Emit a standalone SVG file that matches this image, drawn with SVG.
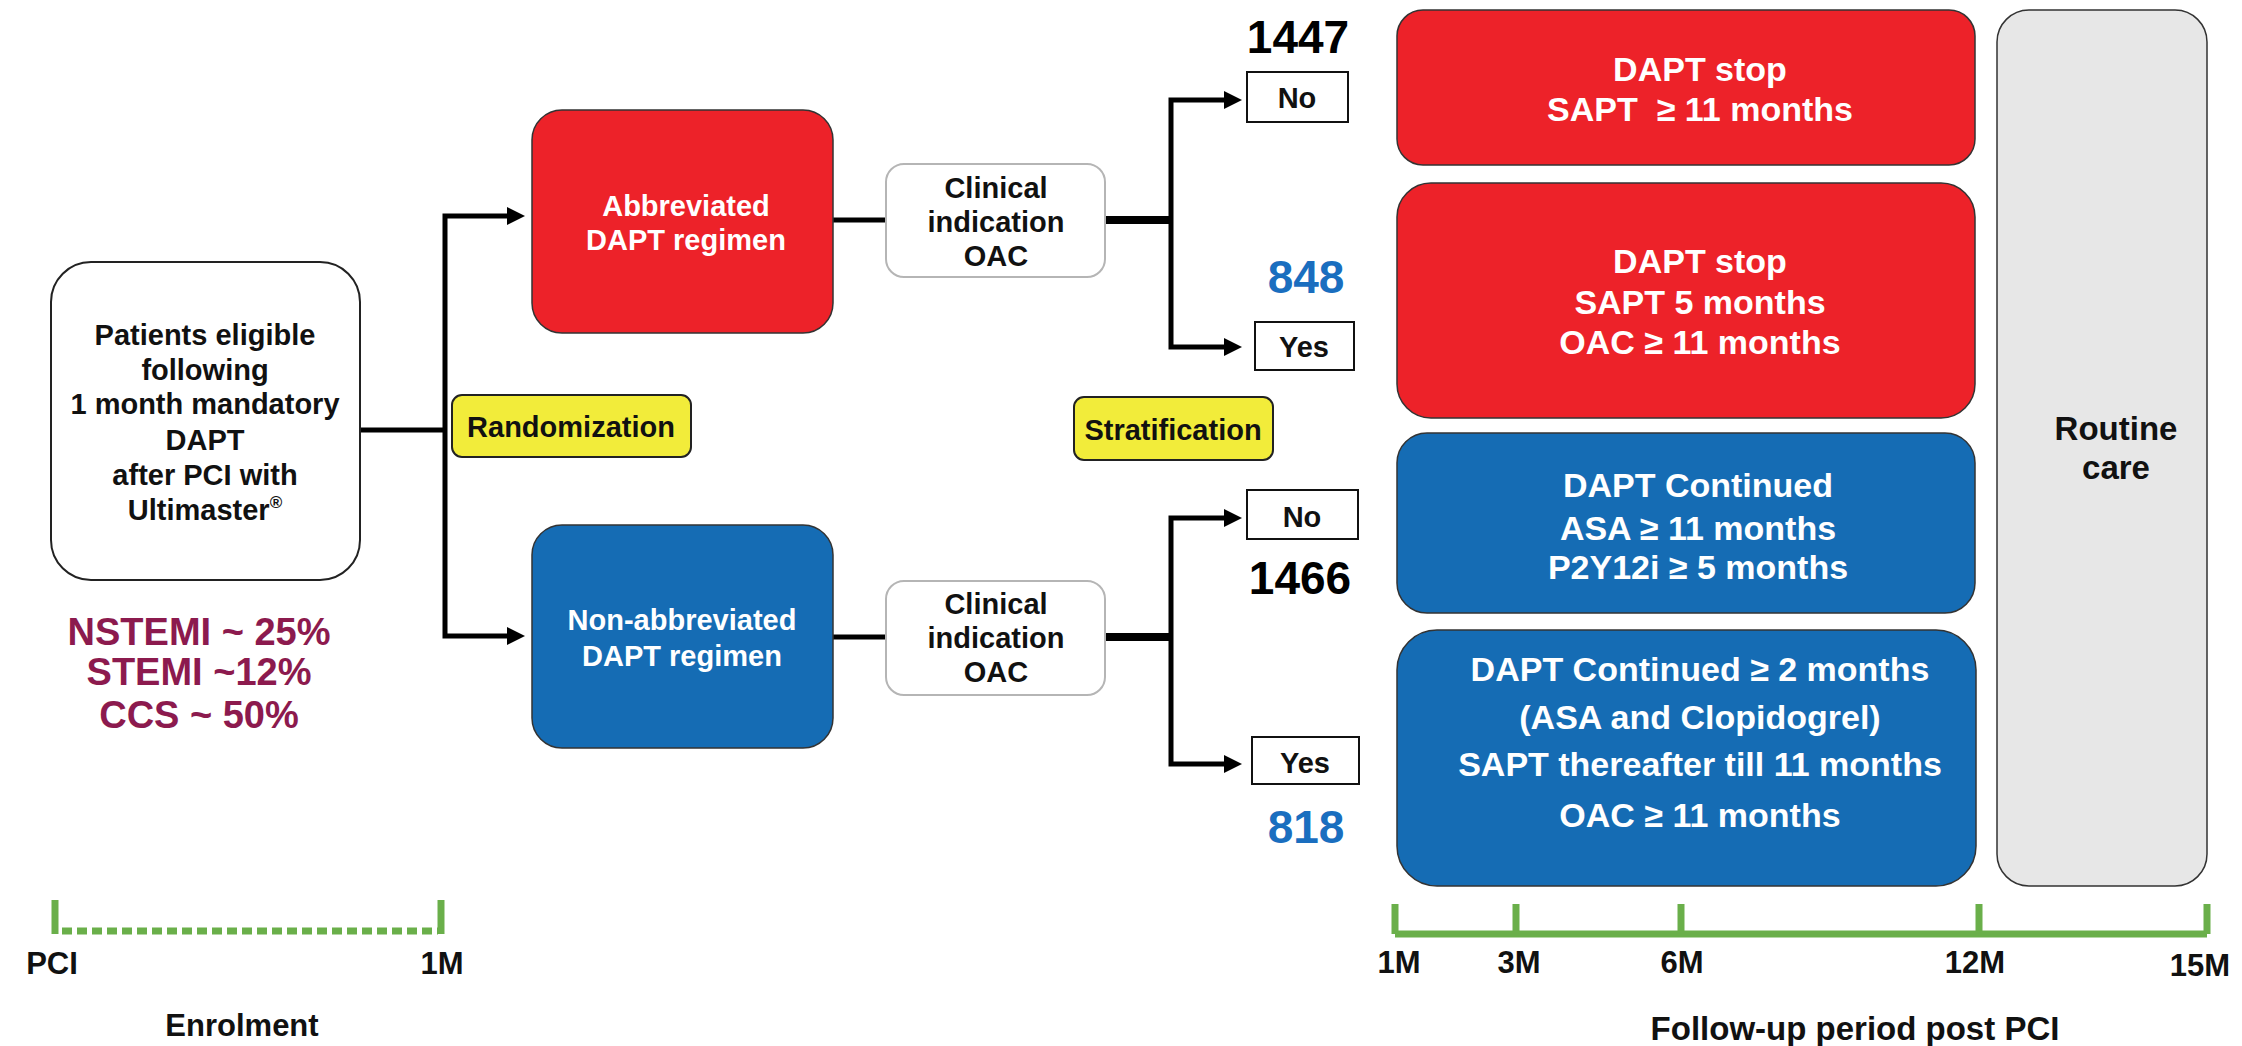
<svg xmlns="http://www.w3.org/2000/svg" width="2242" height="1046" viewBox="0 0 2242 1046">
<style>
text{font-family:"Liberation Sans",Arial,sans-serif;font-weight:bold;text-anchor:middle}
.l{font-size:29px;fill:#111}
.w{font-size:29px;fill:#fff}
.rw{font-size:34px;fill:#fff}
.red{fill:#ED2229;stroke:#333;stroke-width:1.5}
.blue{fill:#156CB4;stroke:#333;stroke-width:1.5}
.clin{fill:#fff;stroke:#b5b5b5;stroke-width:2}
.yn{fill:#fff;stroke:#111;stroke-width:2}
.yel{fill:#F2EC3A;stroke:#222;stroke-width:2}
.conn{fill:none;stroke:#000;stroke-width:5;stroke-linejoin:miter}
.thick{stroke-width:8}
.tl{fill:none;stroke:#6AAF4A;stroke-width:7}
.tlab{font-size:31px;fill:#111}
.num{font-size:46px}
.pct{font-size:38px;fill:#8C1A4E}
</style>
<defs>
<marker id="ah" markerUnits="userSpaceOnUse" markerWidth="20" markerHeight="20" refX="6" refY="9" orient="auto">
<path d="M0,0 L18,9 L0,18 z" fill="#000"/>
</marker>
</defs>

<g id="connectors">
<path class="conn" d="M360 430 H445"/>
<path class="conn" d="M445 430 V216 H513" marker-end="url(#ah)"/>
<path class="conn" d="M445 430 V636 H513" marker-end="url(#ah)"/>
<path class="conn" d="M833 220 H886"/>
<path class="conn thick" d="M1105 220 H1171"/>
<path class="conn" d="M1171 220 V100 H1230" marker-end="url(#ah)"/>
<path class="conn" d="M1171 220 V347 H1230" marker-end="url(#ah)"/>
<path class="conn" d="M833 637 H886"/>
<path class="conn thick" d="M1105 637 H1171"/>
<path class="conn" d="M1171 637 V518 H1230" marker-end="url(#ah)"/>
<path class="conn" d="M1171 637 V764 H1230" marker-end="url(#ah)"/>
</g>

<g id="patients">
<rect x="51" y="262" width="309" height="318" rx="40" fill="#fff" stroke="#222" stroke-width="2"/>
<text class="l"><tspan x="205" y="345">Patients eligible</tspan><tspan x="205" y="380">following</tspan><tspan x="205" y="414">1 month mandatory</tspan><tspan x="205" y="450">DAPT</tspan><tspan x="205" y="485">after PCI with</tspan><tspan x="205" y="520">Ultimaster<tspan font-size="17" dy="-12">®</tspan></tspan></text>
</g>

<g id="percentages">
<text class="pct"><tspan x="199" y="645">NSTEMI ~ 25%</tspan><tspan x="199" y="685">STEMI ~12%</tspan><tspan x="199" y="728">CCS ~ 50%</tspan></text>
</g>

<g id="randomization">
<rect class="yel" x="452" y="395" width="239" height="62" rx="10"/>
<text class="l" x="571" y="437">Randomization</text>
</g>

<g id="abbreviated">
<rect class="red" x="532" y="110" width="301" height="223" rx="30"/>
<text class="w"><tspan x="686" y="216">Abbreviated</tspan><tspan x="686" y="250">DAPT regimen</tspan></text>
</g>

<g id="nonabbreviated">
<rect class="blue" x="532" y="525" width="301" height="223" rx="30"/>
<text class="w"><tspan x="682" y="630">Non-abbreviated</tspan><tspan x="682" y="666">DAPT regimen</tspan></text>
</g>

<g id="clinical1">
<rect class="clin" x="886" y="164" width="219" height="113" rx="18"/>
<text class="l"><tspan x="996" y="198">Clinical</tspan><tspan x="996" y="232">indication</tspan><tspan x="996" y="266">OAC</tspan></text>
</g>

<g id="clinical2">
<rect class="clin" x="886" y="581" width="219" height="114" rx="18"/>
<text class="l"><tspan x="996" y="614">Clinical</tspan><tspan x="996" y="648">indication</tspan><tspan x="996" y="682">OAC</tspan></text>
</g>

<g id="stratification">
<rect class="yel" x="1074" y="397" width="199" height="63" rx="10"/>
<text class="l" x="1173" y="440">Stratification</text>
</g>

<g id="no1">
<text class="num" x="1298" y="53" fill="#000">1447</text>
<rect class="yn" x="1247" y="72" width="101" height="50"/>
<text class="l" x="1297" y="108">No</text>
</g>

<g id="yes1">
<text class="num" x="1306" y="293" fill="#1A6EBF">848</text>
<rect class="yn" x="1255" y="322" width="99" height="48"/>
<text class="l" x="1304" y="357">Yes</text>
</g>

<g id="no2">
<rect class="yn" x="1247" y="490" width="111" height="49"/>
<text class="l" x="1302" y="527">No</text>
<text class="num" x="1300" y="594" fill="#000">1466</text>
</g>

<g id="yes2">
<rect class="yn" x="1252" y="737" width="107" height="47"/>
<text class="l" x="1305" y="773">Yes</text>
<text class="num" x="1306" y="843" fill="#1A6EBF">818</text>
</g>

<g id="outcome1">
<rect class="red" x="1397" y="10" width="578" height="155" rx="26"/>
<text class="rw"><tspan x="1700" y="81">DAPT stop</tspan><tspan x="1700" y="121">SAPT &#160;≥ 11 months</tspan></text>
</g>

<g id="outcome2">
<rect class="red" x="1397" y="183" width="578" height="235" rx="34"/>
<text class="rw"><tspan x="1700" y="273">DAPT stop</tspan><tspan x="1700" y="314">SAPT 5 months</tspan><tspan x="1700" y="354">OAC ≥ 11 months</tspan></text>
</g>

<g id="outcome3">
<rect class="blue" x="1397" y="433" width="578" height="180" rx="30"/>
<text class="rw"><tspan x="1698" y="497">DAPT Continued</tspan><tspan x="1698" y="540">ASA ≥ 11 months</tspan><tspan x="1698" y="579">P2Y12i ≥ 5 months</tspan></text>
</g>

<g id="outcome4">
<rect class="blue" x="1397" y="630" width="579" height="256" rx="40"/>
<text class="rw"><tspan x="1700" y="681">DAPT Continued ≥ 2 months</tspan><tspan x="1700" y="729">(ASA and Clopidogrel)</tspan><tspan x="1700" y="776">SAPT thereafter till 11 months</tspan><tspan x="1700" y="827">OAC ≥ 11 months</tspan></text>
</g>

<g id="routinecare">
<rect x="1997" y="10" width="210" height="876" rx="32" fill="#E7E7E7" stroke="#333" stroke-width="1.5"/>
<text style="font-size:33px;fill:#111"><tspan x="2116" y="440">Routine</tspan><tspan x="2116" y="479">care</tspan></text>
</g>

<g id="enrolment-timeline">
<path class="tl" d="M55 900 V934"/>
<path class="tl" d="M441 900 V934"/>
<path class="tl" d="M62 931 H438" stroke-dasharray="10 5"/>
<text class="tlab" x="52" y="974">PCI</text>
<text class="tlab" x="442" y="974">1M</text>
<text class="tlab" x="242" y="1036">Enrolment</text>
</g>

<g id="followup-timeline">
<path class="tl" d="M1395 934 H2207"/>
<path class="tl" d="M1395 904 V934 M1516 904 V934 M1681 904 V934 M1979 904 V934 M2207 904 V934"/>
<text class="tlab" x="1399" y="973">1M</text>
<text class="tlab" x="1519" y="973">3M</text>
<text class="tlab" x="1682" y="973">6M</text>
<text class="tlab" x="1975" y="973">12M</text>
<text class="tlab" x="2200" y="976">15M</text>
<text style="font-size:33px;fill:#111" x="1855" y="1040">Follow-up period post PCI</text>
</g>
</svg>
